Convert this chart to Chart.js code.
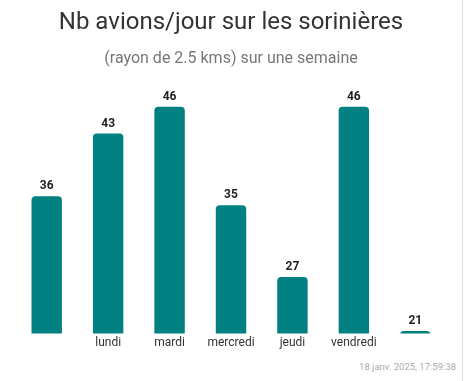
<!DOCTYPE html>
<html>
<head>
<meta charset="utf-8">
<script src="https://cdn.jsdelivr.net/npm/chart.js@4/dist/chart.umd.min.js"></script>
<style>
    body { margin: 0; background: #fff; font-family: Roboto, sans-serif; }
    #wrap { position: relative; width: 462px; height: 381px; border-right: 1px solid #e0e0e0; }
    #stamp { position: absolute; right: 6px; top: 361px; font-size: 9.5px; color: #aaa; }
</style>
</head>
<body>
<div id="wrap">
    <canvas id="chart" width="462" height="352"></canvas>
    <div id="stamp">18 janv. 2025, 17:59:38</div>
</div>
<script>
// Jours de la semaine (premier et dernier non affichés sur l'original)
const jours = ['', 'lundi', 'mardi', 'mercredi', 'jeudi', 'vendredi', ''];
const avions = [36, 43, 46, 35, 27, 46, 21];

const TEAL = '#008080';

// Plugin simple pour écrire la valeur au-dessus de chaque barre
const valueLabels = {
    id: 'valueLabels',
    afterDatasetsDraw(chart) {
        const ctx = chart.ctx;
        const meta = chart.getDatasetMeta(0);
        ctx.save();
        ctx.font = 'bold 12px Roboto, sans-serif';
        ctx.fillStyle = '#222';
        ctx.textAlign = 'center';
        ctx.textBaseline = 'bottom';
        meta.data.forEach((bar, i) => {
            ctx.fillText(avions[i], bar.x, bar.y - 4);
        });
        ctx.restore();
    }
};

const ctx = document.getElementById('chart').getContext('2d');
new Chart(ctx, {
    type: 'bar',
    data: {
        labels: jours,
        datasets: [{
            data: avions,
            backgroundColor: TEAL,
            borderWidth: 0,
            borderRadius: { topLeft: 4, topRight: 4 },
            borderSkipped: 'bottom',
            barPercentage: 0.55,
            categoryPercentage: 0.9
        }]
    },
    options: {
        responsive: false,
        animation: false,
        layout: { padding: { left: 16, right: 16, top: 9, bottom: 0 } },
        plugins: {
            legend: { display: false },
            tooltip: { enabled: false },
            title: {
                display: true,
                text: 'Nb avions/jour sur les sorinières',
                color: '#333',
                font: { family: 'Roboto, sans-serif', size: 24, weight: 'normal' },
                padding: { top: 0, bottom: 8 }
            },
            subtitle: {
                display: true,
                text: '(rayon de 2.5 kms) sur une semaine',
                color: '#777',
                font: { family: 'Roboto, sans-serif', size: 16 },
                padding: { top: 4, bottom: 17 }
            }
        },
        scales: {
            x: {
                grid: { display: false, drawTicks: false },
                border: { display: false },
                ticks: {
                    color: '#333',
                    font: { family: 'Roboto, sans-serif', size: 12 },
                    padding: 2,
                    autoSkip: false,
                    maxRotation: 0
                }
            },
            y: {
                display: false,
                min: 20.7,
                max: 48.3
            }
        }
    },
    plugins: [valueLabels]
});
</script>
</body>
</html>
